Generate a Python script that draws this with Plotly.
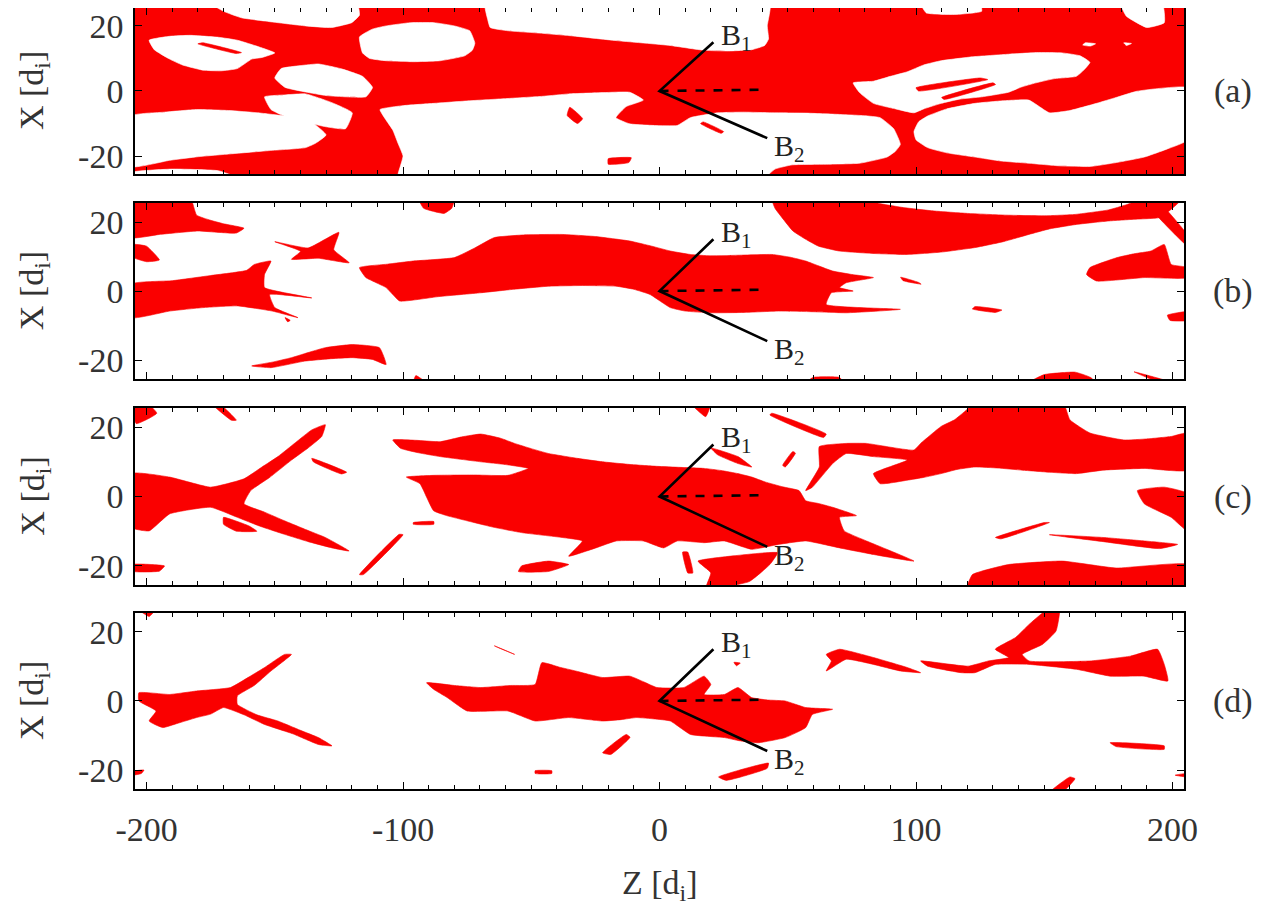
import plotly.graph_objects as go

# ---------------- data ----------------
Z_RANGE = [-204.5, 204.5]
X_RANGE = [-25.5, 25.5]
Z_TICKS = [-200, -100, 0, 100, 200]
Z_TICK_TEXT = ["-200", "-100", "0", "100", "200"]
X_TICKS = [-20, 0, 20]
X_TICK_TEXT = ["-20", "0", "20"]
PANEL_LABELS = ["(a)", "(b)", "(c)", "(d)"]

# field-direction markers (Z, X)
B1_END = (21, 15)
B2_END = (42, -14.5)
DASH_END = (42, 0.4)
B1_LABEL_POS = (23, 16.5)
B2_LABEL_POS = (44, -17.5)

# panel (a): mostly red, white holes
a_holes = [
    [(-175, 27), (-170, 24.5), (-163, 22.5), (-154, 21.5), (-138, 20), (-128, 19.5), (-120, 21), (-117, 23.3), (-118, 27)],
    [(-199, 15.6), (-191, 16.8), (-183, 17.1), (-172, 16.5), (-164.6, 15.6), (-156, 13.5), (-150, 11.7), (-155, 10.3), (-159, 9.8),
     (-164.6, 6.9), (-171, 6.2), (-178, 6.4), (-186, 8), (-191, 9.8), (-197, 12.7)],
    [(-117, 16.6), (-112, 19), (-106.6, 20), (-97, 21), (-88, 21), (-80, 20), (-74, 18.5), (-72, 14.7), (-73, 12.5), (-76, 10.8),
     (-85.5, 9.3), (-96, 9), (-106.6, 9.3), (-113, 10), (-115.8, 11.7)],
    [(-147.5, 6.9), (-140, 7.8), (-133, 8.3), (-124, 6.8), (-115.8, 4.5), (-111.9, 1.1), (-114.5, -1.8), (-122, -1.8), (-130, -1.4),
     (-138, -0.3), (-146, 1.1), (-150, 4)],
    [(-154, -1.8), (-146, -1.2), (-138, -0.9), (-128, -3.5), (-119.8, -6.7), (-122.4, -11.6), (-130, -11), (-138, -9.6),
     (-146, -7.8), (-151.5, -5.7)],
    [(-206, -7.7), (-193, -6.5), (-180.5, -5.7), (-168, -6), (-156.7, -6.7), (-145, -7.8), (-135.6, -9.6), (-130, -13.5),
     (-134, -16), (-138, -17.4), (-152, -18.3), (-167, -19.3), (-180, -20.2), (-191, -21.3), (-206, -23.2)],
    [(-206, -26.5), (-206, -25), (-190, -24), (-172, -24.5), (-165, -26.5)],
    [(-109, -5.7), (-100, -4.5), (-88, -3.8), (-74, -3), (-59, -2.3), (-45, -1.6), (-35.4, -0.9), (-22, -0.5), (-11.6, -0.4),
     (-6.3, -2.8), (-13, -4.8), (-17, -8.2), (-11.6, -10.1), (-2, -10.6), (6.9, -10.6), (12, -8.2), (22.7, -6.7),
     (33, -6.5), (43.8, -6.7), (57, -6.8), (70, -7.2), (80, -7.6), (86, -8.2), (91.3, -11.6), (93.9, -16.4), (92, -18.5),
     (88.7, -20.3), (78, -22.2), (65, -22.5), (51.7, -22.7), (45, -24), (41, -26.5), (-102, -26.5), (-101, -23),
     (-100, -20), (-102, -16), (-104, -12), (-107, -8.5)],
    [(75.5, 2.5), (83.4, 3), (90, 4.5), (96.6, 5.9), (103, 8), (109.8, 9.3), (122, 10.5), (136, 11.3), (147, 11.8), (157, 11.7),
     (164, 10.8), (167.8, 8.8), (165.5, 6.5), (162.5, 4.5), (154, 3.8), (146.7, 2.5), (141, 1.2), (136, -0.4), (125.6, -1.8),
     (117, -2.5), (109.8, -3.8), (103, -5.5), (99.2, -6.7), (92, -5.5), (83.4, -3.8), (78, -0.5)],
    [(104.5, -7.7), (112, -5.5), (123, -3.8), (134, -3), (144, -2.8), (152, -6.7), (160, -6), (170.4, -3.8), (178, -2),
     (186, -0.1), (195, 0.8), (206, 1), (206, -15), (198, -17.8), (189, -20.3), (178, -22), (167.8, -23.2), (156, -23),
     (144, -22.2), (133, -21.5), (123, -20.3), (112, -19), (104.5, -17.4), (100, -15), (99.2, -12.5), (101, -9.5)],
    [(101.8, 27), (104, 24), (115, 23.5), (125.6, 24.5), (125, 27)],
    [(179.7, 27), (182, 23), (190, 19.5), (196.8, 21), (196, 27)],
    [(-68, 27), (-67, 22), (-66, 19.5), (-59, 18.5), (-47, 17.8), (-35, 17), (-17, 15.5), (4, 14), (17.4, 12.5), (27, 12.3),
     (36, 12.7), (41, 14), (42.5, 16), (42, 20), (43, 27)],
    [(166, 14.8), (170, 14.5), (168, 13.8), (165, 14.1)],
    [(181, 14.8), (184, 14.6), (182, 14)],
]
a_specks = [
    [(-180, 14.5), (-165, 11.5), (-163, 11.8), (-178, 14.8)],
    [(-35, -5), (-30, -8.5), (-32, -10), (-36, -7.5)],
    [(-20, -20.8), (-11, -20.5), (-12, -22), (-20, -22.5)],
    [(17, -9.5), (25, -12.5), (24, -13), (16, -10)],
    [(100, 1), (125, 4), (128, 3.5), (101, 0)],
    [(110, -2), (130, 2.5), (131, 2), (111, -2.6)],
    [(160, 0.5), (172, 2.5), (172, 2), (160, 0)],
]

# panel (b): red regions
b_regions = [
    [(-206, 27), (-183, 27), (-180.5, 22), (-175, 20.5), (-170, 19.5), (-162, 18.2), (-165, 16.8), (-172, 17), (-180, 17.4),
     (-195, 16.4), (-206, 15.5)],
    [(-206, 13.5), (-200, 13), (-195, 9), (-200, 8.5), (-206, 10)],
    [(-206, 2), (-190, 3), (-175, 4.5), (-161, 6), (-158, 7.7), (-151.5, 8.7), (-154, 4.8), (-154, 1), (-135.6, -2), (-152, -1),
     (-150, -4.8), (-141, -7.7), (-151, -5.8), (-164.6, -4.3), (-178, -4.8), (-191, -5.8), (-206, -7.7)],
    [(-150, 14.3), (-137, 12.5), (-125, 17), (-127, 12), (-121, 8.2), (-133, 9.5), (-143.5, 9.2), (-140, 11.5)],
    [(-117, 6.8), (-106, 7.8), (-96, 8.7), (-80, 9.7), (-72, 12.5), (-64.4, 15.5), (-52, 16.3), (-38, 16.4), (-25, 15.8),
     (-11.6, 14.5), (-3, 13), (4.2, 11.6), (12, 10.6), (20, 10.2), (32, 10.4), (43.8, 10.6), (51, 9.8), (57, 8.7),
     (62, 7.3), (67.5, 5.8), (75, 4.8), (83.4, 3.9), (72.8, 2.4), (70.2, 1), (75.5, 0), (67, -0.5), (65, -3.9),
     (93.9, -5.3), (72.8, -6.3), (60, -6), (46.4, -5.8), (33, -6.2), (20, -6.3), (10, -5.8), (4.2, -4.8), (-3.7, -1),
     (-10, 0.5), (-16.9, 1.4), (-30, 1.6), (-43.3, 1.4), (-57, 0.5), (-69.7, -0.5), (-86, -1.6), (-101.3, -2.9),
     (-104, -1), (-106.6, 1), (-111, 2.6), (-114.5, 3.9)],
    [(43.8, 27), (45, 24), (47, 22), (52, 17.4), (57, 15), (62, 13), (70, 11.6), (83, 10.9), (96.6, 10.6), (110, 11.3),
     (123, 12.6), (134, 14.3), (144, 16.4), (152, 18), (162.5, 19.3), (175, 20.3), (185, 20.8), (195, 21.3), (200, 24),
     (204, 27), (190, 27), (182, 25), (175, 23.5), (162, 22.2), (150, 21.8), (135, 22), (120, 22.5), (107, 23.2),
     (95, 24.2), (85, 25.5), (80, 27)],
    [(188, 27), (193, 27), (206, 16), (206, 13)],
    [(167.8, 6.8), (178.4, 9.7), (185, 10.8), (191.6, 11.6), (196.8, 13.5), (199.5, 7.7), (206, 6.8), (206, 3.9), (189, 3.9),
     (170.4, 2.9), (166.5, 4.8)],
    [(-159, -21.7), (-151, -20.6), (-143.5, -19.3), (-136, -17.6), (-130.3, -16.4), (-119.8, -15.5), (-109.2, -16.4),
     (-106.6, -21.3), (-112, -19.8), (-119.8, -19.3), (-128, -19.6), (-138.3, -20.3), (-151.5, -22.2)],
    [(-96, -26.5), (-95, -24.5), (-91, -26.5)],
    [(94, 4), (101, 2.5), (102, 2), (95, 3)],
    [(123, -4.5), (133.5, -5.5), (131, -6.2), (122, -5.2)],
    [(198, -7), (206, -6), (206, -8.5), (199, -8.5)],
    [(144, -26.5), (150, -24.2), (162, -23.5), (168, -25), (170, -26.5)],
    [(185, -23.4), (200, -26.5), (195, -26.5)],
    [(57, -26.5), (60, -25), (70, -25), (72, -26.5)],
    [(-94, 27), (-92, 24), (-84, 22.5), (-81, 24), (-80, 27)],
    [(-146, -7.7), (-144, -8.5), (-145, -8.9)],
]

# panel (c): red regions
c_regions = [
    [(-206, 6.6), (-191, 5.6), (-175, 2.7), (-162, 5.1), (-155, 8.5), (-148.8, 11.5), (-142, 15.5), (-135.6, 19.2),
     (-130.3, 20.7), (-131.7, 17.3), (-137, 14), (-143.5, 10.5), (-152, 5.5), (-159.4, 1.7), (-162, -2.1), (-154, -4.5),
     (-146.2, -7), (-138, -9.5), (-130.3, -11.8), (-121, -15.7), (-127.7, -14.8), (-137, -13), (-146.2, -10.9),
     (-156, -8.5), (-164.6, -6), (-175, -3.1), (-191, -5), (-199, -9.9), (-206, -8.9)],
    [(-170, -6), (-160, -8.5), (-157, -10), (-165, -10), (-170, -8)],
    [(-206, 27), (-200, 27), (-196, 24), (-204, 21)],
    [(-175, 27), (-172, 27), (-165, 22), (-167, 22)],
    [(-104, 16.3), (-95, 16.2), (-85.5, 15.8), (-77, 17.2), (-69.7, 18), (-62, 16.8), (-56.5, 15.3), (-50, 13.8),
     (-43.3, 12.4), (-32, 11), (-22.2, 10), (-11, 9.2), (-1, 8.7), (8, 8.4), (17.4, 8.1), (24, 7.5), (30.6, 6.6),
     (36, 5.6), (41.2, 4.2), (48, 2.8), (54.4, 1.7), (57, -1.2), (62, -2), (67.5, -3.1), (76.8, -5.5), (70.2, -6),
     (72, -9.9), (80.7, -12.8), (99.2, -18.6), (83.4, -16.7), (70.2, -14.8), (57, -12.8), (46.4, -13.8), (35.9, -15.2),
     (25.3, -12.8), (17.4, -13.3), (6.9, -12.8), (1.6, -14.8), (-6.3, -12.8), (-16.9, -12.8), (-24.8, -14.8),
     (-35.4, -17.2), (-30.1, -12.8), (-38, -11.8), (-53.8, -10.4), (-65, -8.8), (-75, -7), (-83, -5.5), (-88.1, -4.1),
     (-90.8, -0.2), (-93.4, 3.7), (-98.7, 5.6), (-88, 6.1), (-72, 6.2), (-59.1, 6.1), (-51.2, 8.1), (-60, 9.2),
     (-69.7, 10), (-85.5, 11.5), (-94, 12.6), (-101, 13.9)],
    [(-53.8, -20), (-43.3, -18.6), (-35.4, -19.6), (-43.3, -21.6), (-55, -21.6)],
    [(15, -18.6), (30, -17), (46, -16.2), (43, -19.6), (35, -24.5), (22, -26.5), (18, -26.5), (20, -22)],
    [(9, -16), (11, -16), (13, -22), (11, -22)],
    [(123, 27), (157.3, 27), (160, 22.1), (167.8, 18.3), (181, 16.3), (190, 16.6), (199.5, 17.3), (206, 18.3), (206, 7.6),
     (189, 8.1), (173, 7.6), (162.5, 6.6), (152, 7), (141.4, 7.6), (132, 8.2), (123, 8.5), (116, 7.8), (109.8, 6.6),
     (103, 5.5), (96.6, 4.7), (86, 3.7), (83.4, 6.6), (96.6, 10.5), (83.4, 11.5), (72.8, 12.4), (67.5, 9.5), (59.6, 2.7),
     (57, 1.7), (62.3, 8.5), (62.3, 14.4), (72.8, 15.3), (80.7, 15.3), (99.2, 13.4), (101.8, 15.3), (109.8, 20.2),
     (115, 22.1), (119, 24.5)],
    [(186.3, 1.7), (196.8, 2.7), (206, 0.8), (206, -10), (199.5, -6), (189, -2.1)],
    [(131, -11.8), (150, -7.5), (152, -7.5), (133, -12.2)],
    [(152, -11), (173, -11.8), (189, -12.8), (202, -13.8), (195, -15), (173, -13)],
    [(120, -26.5), (122, -22.5), (136, -19.6), (157, -18.6), (178, -20.6), (206, -19.6), (206, -26.5)],
    [(20, 14), (30.6, 11.5), (36, 8.5), (30.6, 9.5), (22.7, 12)],
    [(12, 27), (20, 27), (18, 23)],
    [(43.8, 24), (65, 18), (64, 17), (43, 23.5)],
    [(48, 9), (52, 13), (53, 12.5), (49, 8.5)],
    [(-117, -22.5), (-101.5, -10.9), (-100, -11), (-115.5, -22.5)],
    [(-135.6, 11), (-122, 7), (-124, 6.5), (-135, 10)],
    [(-206, -19.6), (-193, -20), (-195, -21.5), (-206, -21.5)],
    [(-96, -7.5), (-88, -7.2), (-88, -8), (-96, -8)],
]

# panel (d): red regions
d_regions = [
    [(-203, 2.4), (-191, 1.9), (-180.5, 2.9), (-167.3, 3.9), (-160, 7), (-154, 9.7), (-146.2, 13.5), (-143.5, 13.5),
     (-151.5, 8.7), (-158, 4.5), (-164.6, 1.5), (-164.6, -1), (-157, -4), (-148.8, -5.8), (-140, -8.5), (-133, -10.6),
     (-127.7, -13), (-133, -12.6), (-143, -9.5), (-154, -6.8), (-162, -4), (-170, -1.9), (-175, -3.8), (-180.5, -4.8),
     (-188, -6.5), (-193.7, -7.7), (-199, -5.8), (-196.3, -2.9), (-203, 0)],
    [(-90.8, 5.3), (-80, 4.5), (-69.7, 3.9), (-58, 4.5), (-48.5, 4.8), (-45.9, 11.1), (-39, 9.8), (-32.7, 8.7),
     (-22.2, 6.8), (-11.6, 7.2), (-6, 5.5), (-1, 3.9), (9.5, 3.9), (17.4, 7.2), (20, 4.8), (17.4, 1.9), (25.3, 1.9),
     (30.6, 3.9), (35.9, 1), (42, 0.3), (49, 0), (57, -1.9), (67.5, -2.4), (59.6, -3.9), (57, -7.7), (49, -10.6),
     (38.5, -12.1), (31, -11.5), (25.3, -10.6), (12.1, -9.7), (4.2, -5.8), (-2, -5.2), (-9, -4.8), (-15, -5.4),
     (-22.2, -5.8), (-35.4, -4.8), (-48.5, -5.8), (-59.1, -2.9), (-75, -2.9), (-82.8, 1), (-88.1, 3.4)],
    [(-64.4, 16), (-58, 14), (-56.5, 13.5), (-63, 15.5)],
    [(29, 11.2), (31.5, 11), (30, 10.2)],
    [(-22.2, -15), (-13, -9.7), (-11.5, -10.5), (-19, -15.5)],
    [(23, -22), (42.5, -18), (42, -19.5), (26, -23)],
    [(-48.5, -20.2), (-42, -20.2), (-42, -21), (-48.5, -21)],
    [(65, 13.5), (70.2, 15), (83.4, 12.6), (96.6, 9.7), (101.8, 8.2), (93.9, 8.7), (83.4, 10.6), (72.8, 12.1), (65, 8.7),
     (67, 11.6)],
    [(101.8, 11.6), (120.3, 10.1), (128.2, 11.6), (136.1, 12.6), (130.9, 15), (138.8, 18.4), (144.1, 22.2), (152, 27),
     (156, 27), (154.6, 20.3), (149.3, 16.4), (141.4, 13.5), (144.1, 11.6), (167.8, 11.6), (183.6, 13), (194.2, 15),
     (196.8, 10.6), (198.2, 5.8), (188.9, 7.2), (175.7, 7.2), (162.5, 9.2), (144.1, 10.6), (130.9, 10.6), (123, 8.2),
     (117.7, 8.2), (104.5, 10.1)],
    [(175.7, -12.1), (196.8, -13), (196.8, -14), (178, -13.2)],
    [(152, -26.5), (160, -22), (162, -22.5), (157, -26.5)],
    [(-206, -20.5), (-201, -20), (-202, -21), (-206, -21.5)],
    [(201, -21.5), (206, -21), (206, -22)],
    [(-204, 27), (-196, 27), (-199, 24.5)],
]

RED = "rgb(250,0,0)"
FONT = "Liberation Serif"
TXT = "#333"

fig = go.Figure()

panels = [
    {"ax": "", "dom": [0.8178, 1.0]},
    {"ax": "2", "dom": [0.5927, 0.7859]},
    {"ax": "3", "dom": [0.3666, 0.5609]},
    {"ax": "4", "dom": [0.1427, 0.3359]},
]


def add_poly(verts, color, ax):
    zs = [v[0] for v in verts] + [verts[0][0]]
    xs = [v[1] for v in verts] + [verts[0][1]]
    fig.add_trace(go.Scatter(x=zs, y=xs, mode="lines", fill="toself", fillcolor=color,
                             line=dict(width=0.6, color=color, shape="spline", smoothing=0.4),
                             hoverinfo="skip", showlegend=False,
                             xaxis="x" + ax, yaxis="y" + ax))


# panel a background (red) built from axis ranges
bg = [(Z_RANGE[0] - 2, X_RANGE[0] - 2), (Z_RANGE[1] + 2, X_RANGE[0] - 2),
      (Z_RANGE[1] + 2, X_RANGE[1] + 2), (Z_RANGE[0] - 2, X_RANGE[1] + 2)]
fig.add_trace(go.Scatter(x=[p[0] for p in bg] + [bg[0][0]], y=[p[1] for p in bg] + [bg[0][1]],
                         mode="lines", fill="toself", fillcolor=RED, line=dict(width=0, color=RED),
                         hoverinfo="skip", showlegend=False, xaxis="x", yaxis="y"))
for h in a_holes:
    add_poly(h, "white", "")
for s in a_specks:
    add_poly(s, RED, "")
for r in b_regions:
    add_poly(r, RED, "2")
for r in c_regions:
    add_poly(r, RED, "3")
for r in d_regions:
    add_poly(r, RED, "4")

# B-field markers in every panel
for p in panels:
    ax = p["ax"]
    fig.add_trace(go.Scatter(x=[B1_END[0], 0, B2_END[0]], y=[B1_END[1], 0, B2_END[1]], mode="lines",
                             line=dict(color="black", width=2.6), hoverinfo="skip", showlegend=False,
                             xaxis="x" + ax, yaxis="y" + ax))
    fig.add_trace(go.Scatter(x=[0, DASH_END[0]], y=[0, DASH_END[1]], mode="lines",
                             line=dict(color="black", width=2.6, dash="dash"), hoverinfo="skip", showlegend=False,
                             xaxis="x" + ax, yaxis="y" + ax))

annotations = []
for i, p in enumerate(panels):
    ax = p["ax"]
    annotations.append(dict(x=B1_LABEL_POS[0], y=B1_LABEL_POS[1], xref="x" + ax, yref="y" + ax,
                            text="B<sub>1</sub>", showarrow=False, xanchor="left", yanchor="middle",
                            font=dict(family=FONT, size=30, color="#222")))
    annotations.append(dict(x=B2_LABEL_POS[0], y=B2_LABEL_POS[1], xref="x" + ax, yref="y" + ax,
                            text="B<sub>2</sub>", showarrow=False, xanchor="left", yanchor="middle",
                            font=dict(family=FONT, size=30, color="#222")))
    annotations.append(dict(x=0.9615, y=0, xref="paper", yref="y" + ax, text=PANEL_LABELS[i],
                            showarrow=False, xanchor="center", yanchor="middle",
                            font=dict(family=FONT, size=34, color=TXT)))
    annotations.append(dict(x=0.0205, y=0, xref="paper", yref="y" + ax, text="X [d<sub>i</sub>]",
                            showarrow=False, textangle=-90, xanchor="center", yanchor="middle",
                            font=dict(family=FONT, size=34, color=TXT)))
annotations.append(dict(x=0.5118, y=0.037, xref="paper", yref="paper", text="Z [d<sub>i</sub>]",
                        showarrow=False, xanchor="center", yanchor="middle",
                        font=dict(family=FONT, size=34, color=TXT)))

layout = dict(width=1274, height=911, margin=dict(l=0, r=0, t=0, b=0, autoexpand=False),
              paper_bgcolor="white", plot_bgcolor="white", annotations=annotations, showlegend=False)
for i, p in enumerate(panels):
    ax = p["ax"]
    last = i == len(panels) - 1
    layout["xaxis" + ax] = dict(domain=[0.0997, 0.9231], range=Z_RANGE, anchor="y" + ax, automargin=False,
                                tickvals=Z_TICKS, ticktext=Z_TICK_TEXT, ticks="inside", ticklen=7, tickwidth=1.2,
                                tickcolor="black",
                                minor=dict(dtick=10, tick0=0, ticks="inside", ticklen=4, tickcolor="black"),
                                showline=True, linecolor="black", linewidth=1.6, mirror="allticks",
                                showgrid=False, zeroline=False, showticklabels=last,
                                ticklabelstandoff=9, ticklabeloverflow="allow",
                                tickfont=dict(family=FONT, size=34, color=TXT))
    layout["yaxis" + ax] = dict(domain=p["dom"], range=X_RANGE, anchor="x" + ax, automargin=False,
                                tickvals=X_TICKS, ticktext=X_TICK_TEXT, ticks="inside", ticklen=7, tickwidth=1.2,
                                tickcolor="black",
                                showline=True, linecolor="black", linewidth=1.6, mirror="allticks",
                                showgrid=False, zeroline=False, ticklabelstandoff=3, ticklabeloverflow="allow",
                                tickfont=dict(family=FONT, size=34, color=TXT))
fig.update_layout(**layout)
fig.write_html("out.html")
